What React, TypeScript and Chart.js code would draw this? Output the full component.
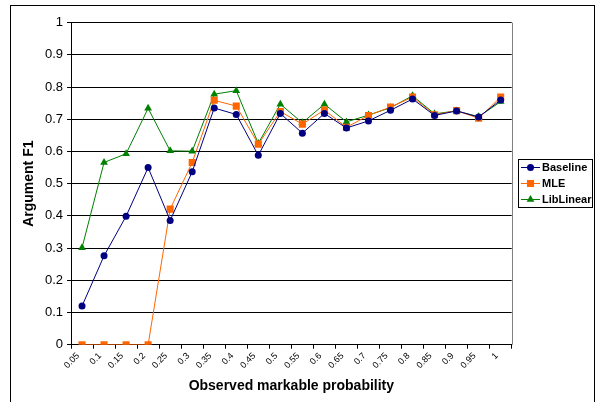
import React, { useEffect, useRef } from "react";
import { Chart, registerables } from "chart.js";

Chart.register(...registerables);

const categories = ["0.05","0.1","0.15","0.2","0.25","0.3","0.35","0.4","0.45","0.5","0.55","0.6","0.65","0.7","0.75","0.8","0.85","0.9","0.95","1"];
const baseline = [0.120,0.276,0.399,0.550,0.386,0.537,0.735,0.715,0.588,0.718,0.657,0.718,0.673,0.695,0.728,0.763,0.712,0.726,0.707,0.760];
const mle = [0,0,0,0,0.421,0.566,0.759,0.741,0.623,0.724,0.685,0.729,0.675,0.712,0.738,0.769,0.714,0.727,0.703,0.769];
const libLinear = [0.301,0.566,0.593,0.734,0.602,0.601,0.778,0.789,0.625,0.747,0.689,0.747,0.692,0.713,0.736,0.773,0.717,0.726,0.708,0.755];
const seriesNames = ["Baseline","MLE","LibLinear"];
const seriesColors = ["#000080","#FF6600","#008000"];
const seriesStyles = ["circle","rect","triangle"];
const seriesRadius = [3.5,5,4.5];

const W = 597, H = 402;
const PLOT_L = 71, PLOT_R = 511.7, PLOT_T = 22.7, PLOT_B = 344.7;

function drawMarker(ctx, style, x, y, r, color) {
  ctx.save();
  ctx.fillStyle = color;
  ctx.beginPath();
  if (style === "circle") {
    ctx.arc(x, y, r, 0, Math.PI * 2);
  } else if (style === "rect") {
    const s = Math.SQRT1_2 * r;
    ctx.rect(x - s, y - s, 2 * s, 2 * s);
  } else {
    const h = r * 1.5;
    ctx.moveTo(x, y - r);
    ctx.lineTo(x + r * 0.866, y + r * 0.5);
    ctx.lineTo(x - r * 0.866, y + r * 0.5);
    ctx.closePath();
  }
  ctx.fill();
  ctx.restore();
}

const framePlugin = {
  id: "frame",
  beforeDraw(chart) {
    const ctx = chart.ctx;
    ctx.save();
    ctx.fillStyle = "#ffffff";
    ctx.fillRect(0, 0, W, H);
    ctx.restore();
  },
  afterDraw(chart) {
    const ctx = chart.ctx;
    const a = chart.chartArea;
    ctx.save();
    // right border of plot area
    ctx.strokeStyle = "#808080";
    ctx.lineWidth = 1;
    ctx.beginPath();
    ctx.moveTo(Math.round(a.right) + 0.5, a.top);
    ctx.lineTo(Math.round(a.right) + 0.5, a.bottom);
    ctx.stroke();
    // outer border
    ctx.strokeStyle = "#000000";
    ctx.strokeRect(10.5, 5.5, 584, 410);
    // legend
    const lx = 518.5, ly = 159.5, lw = 74, lh = 48;
    ctx.strokeRect(lx, ly, lw, lh);
    ctx.font = "bold 11px Arial, 'Liberation Sans', sans-serif";
    ctx.textBaseline = "middle";
    ctx.textAlign = "left";
    for (let i = 0; i < seriesNames.length; i++) {
      const y = 167 + i * 16;
      ctx.strokeStyle = seriesColors[i];
      ctx.lineWidth = 1;
      ctx.beginPath();
      ctx.moveTo(521, y + 0.5);
      ctx.lineTo(540, y + 0.5);
      ctx.stroke();
      drawMarker(ctx, seriesStyles[i], 530.5, y + 0.5, seriesRadius[i], seriesColors[i]);
      ctx.fillStyle = "#000";
      ctx.fillText(seriesNames[i], 542, y + 1);
    }
    ctx.restore();
  },
};

export default function App() {
  const ref = useRef(null);
  useEffect(() => {
    const datasets = [baseline, mle, libLinear].map((d, i) => ({
      label: seriesNames[i],
      data: d,
      borderColor: seriesColors[i],
      backgroundColor: seriesColors[i],
      borderWidth: 1,
      pointStyle: seriesStyles[i],
      pointRadius: seriesRadius[i],
      pointBorderWidth: 0,
      pointBackgroundColor: seriesColors[i],
      tension: 0,
    }));
    const chart = new Chart(ref.current, {
      type: "line",
      data: { labels: categories, datasets },
      options: {
        responsive: false,
        animation: false,
        layout: { padding: { left: 0, right: W - PLOT_R, top: PLOT_T, bottom: 0 } },
        plugins: { legend: { display: false }, tooltip: { enabled: false } },
        scales: {
          x: {
            offset: true,
            grid: { offset: true, drawOnChartArea: false, drawTicks: true, tickLength: 4, color: "#000" },
            border: { color: "#000" },
            ticks: {
              autoSkip: false,
              maxRotation: 45,
              minRotation: 45,
              padding: 2,
              labelOffset: -4,
              color: "#000",
              font: { family: "Arial, 'Liberation Sans', sans-serif", size: 9 },
            },
            title: {
              display: true,
              text: "Observed markable probability",
              color: "#000",
              font: { family: "Arial, 'Liberation Sans', sans-serif", size: 14, weight: "bold" },
              padding: { top: 0, bottom: 7 },
            },
            afterFit(scale) { scale.height = H - PLOT_B; },
          },
          y: {
            min: 0,
            max: 1,
            grid: { color: "#000", tickLength: 4, drawTicks: true },
            border: { color: "#000" },
            ticks: {
              stepSize: 0.1,
              padding: 4,
              color: "#000",
              font: { family: "Arial, 'Liberation Sans', sans-serif", size: 13 },
              callback: (v) => String(Math.round(v * 10) / 10),
            },
            title: {
              display: true,
              text: "Argument F1",
              color: "#000",
              font: { family: "Arial, 'Liberation Sans', sans-serif", size: 14, weight: "bold" },
              padding: { top: 21, bottom: 0 },
            },
            afterFit(scale) { scale.width = PLOT_L; },
          },
        },
      },
      plugins: [framePlugin],
    });
    return () => chart.destroy();
  }, []);
  return (
    <div style={{ position: "fixed", left: 0, top: 0, width: W, height: H, background: "#fff" }}>
      <canvas ref={ref} width={W} height={H} style={{ width: W, height: H, display: "block" }} />
    </div>
  );
}
